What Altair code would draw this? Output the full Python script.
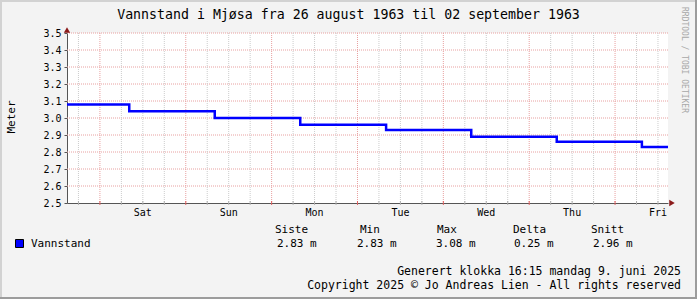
import altair as alt
import pandas as pd

FONT = "DejaVu Sans Mono"

# ---- data ----
step_hours = [0, 17.4, 41.3, 65.2, 89.2, 113.0, 136.9, 160.7, 168]
levels = [3.08, 3.04, 3.00, 2.96, 2.93, 2.89, 2.86, 2.83, 2.83]
day_labels = ["Sat", "Sun", "Mon", "Tue", "Wed", "Thu", "Fri"]
label_hours = [21.2, 45.2, 69.2, 93.2, 117.2, 141.2, 165.2]
midnight_hours = [9.2, 33.2, 57.2, 81.2, 105.2, 129.2, 153.2]
minor_hours = [3.2, 15.2, 21.2, 27.2, 39.2, 45.2, 51.2, 63.2, 69.2, 75.2,
               87.2, 93.2, 99.2, 111.2, 117.2, 123.2, 135.2, 141.2, 147.2,
               159.2, 165.2]
y_ticks = [2.5, 2.6, 2.7, 2.8, 2.9, 3.0, 3.1, 3.2, 3.3, 3.4, 3.5]
stat_names = ["Siste", "Min", "Max", "Delta", "Snitt"]
stat_values = ["2.83 m", "2.83 m", "3.08 m", "0.25 m", "2.96 m"]
series_name = "Vannstand"
title_text = "Vannstand i Mjøsa fra 26 august 1963 til 02 september 1963"
footer1 = "Generert klokka 16:15 mandag 9. juni 2025"
footer2 = "Copyright 2025 © Jo Andreas Lien - All rights reserved"
y_title = "Meter"
watermark = "RRDTOOL / TOBI OETIKER"

# ---- layout ----
W, H = 601, 170
PAD = {"left": 67, "top": 33, "right": 29, "bottom": 96}
head_x = [275, 360, 437, 513, 591]
val_x = [277, 357, 436, 514, 593]

xs = alt.Scale(domain=[0, 168], nice=False, zero=False)
ys = alt.Scale(domain=[2.5, 3.5], nice=False, zero=False)
x_axis = alt.Axis(labels=False, ticks=False, grid=False, title=None,
                  domainColor="#555555", domainWidth=1)
y_axis = alt.Axis(values=y_ticks, format=".1f", grid=False, title=None,
                  labelFont=FONT, labelFontSize=10, labelColor="#000000",
                  labelPadding=3, tickSize=3, tickColor="#555555",
                  domainColor="#555555", domainWidth=1)

def X(f):
    return alt.X(f, scale=xs, axis=x_axis)

def Y(f):
    return alt.Y(f, scale=ys, axis=y_axis)

def ax(v):  # absolute px -> plot-relative x
    return v - PAD["left"]

def ay(v):
    return v - PAD["top"]

line_df = pd.DataFrame({"h": step_hours, "v": levels})
grid_y = alt.Chart(pd.DataFrame({"v": y_ticks[1:]})).mark_rule(
    color="#e8a0a0", strokeDash=[1, 1], strokeWidth=1
).encode(y=Y("v:Q"))
grid_minor = alt.Chart(pd.DataFrame({"h": minor_hours})).mark_rule(
    color="#cccccc", strokeDash=[1, 1], strokeWidth=1
).encode(x=X("h:Q"))
grid_major = alt.Chart(pd.DataFrame({"h": midnight_hours})).mark_rule(
    color="#e8a0a0", strokeDash=[1, 1], strokeWidth=1
).encode(x=X("h:Q"))

tick_minor = alt.Chart(pd.DataFrame({"h": minor_hours})).mark_rule(
    color="#b0b0b0", strokeWidth=1
).encode(x=X("h:Q"), y=alt.value(H - 2), y2=alt.value(H + 2))
tick_major = alt.Chart(pd.DataFrame({"h": midnight_hours})).mark_rule(
    color="#e06060", strokeWidth=1
).encode(x=X("h:Q"), y=alt.value(H - 2), y2=alt.value(H + 2))

line = alt.Chart(line_df).mark_line(
    interpolate="step-after", color="#0000ff", strokeWidth=2.5
).encode(x=X("h:Q"), y=Y("v:Q"))

xlabels = alt.Chart(pd.DataFrame({"h": label_hours, "d": day_labels})).mark_text(
    font=FONT, fontSize=10, baseline="alphabetic", align="center", color="#000000"
).encode(x=X("h:Q"), y=alt.value(ay(216)), text="d:N")

arrow_up = alt.Chart(pd.DataFrame({"a": [0]})).mark_point(
    shape="triangle-up", filled=True, color="#8b1a1a", size=40, opacity=1
).encode(x=alt.value(0), y=alt.value(-3))
arrow_right = alt.Chart(pd.DataFrame({"a": [0]})).mark_point(
    shape="triangle-right", filled=True, color="#8b1a1a", size=40, opacity=1
).encode(x=alt.value(W + 4), y=alt.value(H))

def txt(t, x, y, size=11, align="left", baseline="alphabetic", angle=0, color="#000000"):
    kw = dict(font=FONT, fontSize=size, align=align, baseline=baseline, color=color)
    if angle:
        kw["angle"] = angle
    return alt.Chart(pd.DataFrame({"t": [t]})).mark_text(**kw).encode(
        text="t:N", x=alt.value(ax(x)), y=alt.value(ay(y)))

texts = [
    txt(title_text, 348.5, 19, size=13.25, align="center"),
    txt(y_title, 15, 117, size=11, align="center", angle=270),
    txt(watermark, 684, 7, size=8, align="left", baseline="middle", angle=90, color="#a8a8a8"),
    txt(series_name, 31, 247, size=11),
    txt(footer1, 681, 275, size=11.5, align="right"),
    txt(footer2, 681, 289, size=11.5, align="right"),
]
for name, x in zip(stat_names, head_x):
    texts.append(txt(name, x, 233, size=11))
for val, x in zip(stat_values, val_x):
    texts.append(txt(val, x, 247, size=11))

swatch = alt.Chart(pd.DataFrame({"s": [series_name]})).mark_point(
    shape="square", filled=True, color="#0000ff", stroke="#000000",
    strokeWidth=1, size=64, opacity=1
).encode(x=alt.value(ax(19.5)), y=alt.value(ay(243.5)))

def border(x1, y1, x2, y2, color):
    return alt.Chart(pd.DataFrame({"a": [0]})).mark_rule(color=color, strokeWidth=2).encode(
        x=alt.value(ax(x1)), y=alt.value(ay(y1)), x2=alt.value(ax(x2)), y2=alt.value(ay(y2)))

borders = [
    border(1, 0, 1, 299, "#d2d2d2"),
    border(0, 1, 697, 1, "#d2d2d2"),
    border(696, 0, 696, 299, "#9c9c9c"),
    border(0, 298, 697, 298, "#9c9c9c"),
]

chart = alt.layer(
    grid_y, grid_minor, grid_major, tick_minor, tick_major, line, xlabels,
    arrow_up, arrow_right, swatch, *texts, *borders
).properties(
    width=W, height=H,
    padding=PAD,
    autosize=alt.AutoSizeParams(type="none"),
    background="#f3f3f3",
).configure_view(fill="white", strokeWidth=0)

chart.save("out.html", embed_options={"renderer": "svg", "actions": False})
